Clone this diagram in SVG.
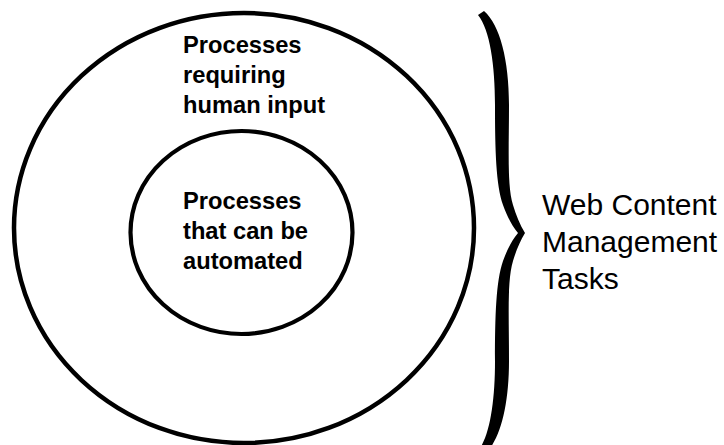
<svg xmlns="http://www.w3.org/2000/svg" width="724" height="445" viewBox="0 0 724 445">
  <style>
    .ring { fill: none; stroke: #000; }
    .bold { font-family: "Liberation Sans", Arial, sans-serif; font-weight: bold; font-size: 23.7px; fill: #000; }
    .label { font-family: "Liberation Sans", Arial, sans-serif; font-size: 30px; fill: #000; }
  </style>
  <rect width="724" height="445" fill="#fff"/>
  <g id="outer">
    <ellipse class="ring" cx="244" cy="228" rx="230" ry="215" stroke-width="4.5"/>
    <text class="bold" x="183" y="53">Processes</text>
    <text class="bold" x="183" y="83">requiring</text>
    <text class="bold" x="183" y="113">human input</text>
  </g>
  <g id="inner">
    <ellipse class="ring" cx="241.5" cy="232.5" rx="111" ry="101.5" stroke-width="4.2"/>
    <text class="bold" x="183" y="209">Processes</text>
    <text class="bold" x="183" y="239">that can be</text>
    <text class="bold" x="183" y="269">automated</text>
  </g>
  <g id="brace">
    <path fill="#000" d="M 478,15 L 484,11 C 500,25 509,60 509,105 C 509,150 507,185 513,205 C 516,215 520,225 525,233 C 520,241 516,251 513,261 C 507,281 509,316 509,361 C 509,406 500,441 484,455 L 478,451 C 490,436 495,401 495,361 C 495,316 496,281 503,261 C 507,250 512,240 518,233 C 512,226 507,216 503,205 C 496,185 495,150 495,105 C 495,65 490,30 478,15 Z"/>
  </g>
  <g id="caption">
    <text class="label" x="542" y="215">Web Content</text>
    <text class="label" x="542" y="252">Management</text>
    <text class="label" x="542" y="289">Tasks</text>
  </g>
</svg>
